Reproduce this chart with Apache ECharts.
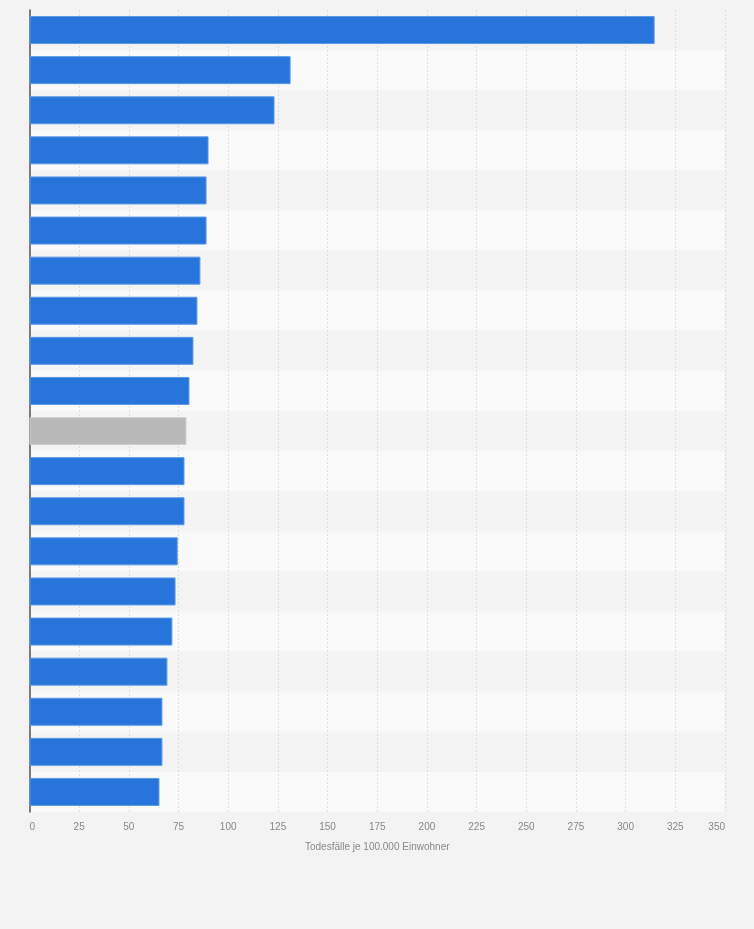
<!DOCTYPE html>
<html>
<head>
<meta charset="utf-8">
<script src="https://cdn.jsdelivr.net/npm/echarts@6/dist/echarts.min.js"></script>
<style>
  html, body { margin: 0; padding: 0; background: #f3f3f3; }
  #main { width: 754px; height: 929px; }
</style>
</head>
<body>
<div id="main"></div>
<script>
// categories (labels are not shown in the picture)
var categories = ['1', '2', '3', '4', '5', '6', '7', '8', '9', '10',
  '11', '12', '13', '14', '15', '16', '17', '18', '19', '20']
// Todesfälle je 100.000 Einwohner
var values = [314.6, 131.4, 123.3, 90.1, 89.1, 89.1, 86.0, 84.5, 82.5, 80.5,
  79.0, 78.0, 78.0, 74.6, 73.5, 71.9, 69.4, 66.9, 66.9, 65.4]
var highlightIndex = 10
var xTicks = { min: 0, max: 350, interval: 25 }
var axisName = 'Todesfälle je 100.000 Einwohner'

var barData = values.map(function (v, i) {
  if (i === highlightIndex) {
    return { value: v, itemStyle: { color: '#b9b9b9', borderColor: '#cfcfcf' } }
  }
  return v
})

var myChart = echarts.init(document.getElementById('main'))

myChart.setOption({
  backgroundColor: '#f3f3f3',
  textStyle: { fontFamily: 'Liberation Sans, Arial, sans-serif' },
  grid: { left: 29.5, right: 29, top: 10, bottom: 117, containLabel: false },
  xAxis: {
    type: 'value',
    min: xTicks.min,
    max: xTicks.max,
    interval: xTicks.interval,
    name: axisName,
    nameLocation: 'middle',
    nameGap: 30,
    nameTextStyle: { color: '#888', fontSize: 10 },
    axisLine: { show: false },
    axisTick: { show: false },
    axisLabel: {
      color: '#888',
      fontSize: 10,
      margin: 10,
      alignMinLabel: 'left',
      alignMaxLabel: 'right'
    },
    splitLine: { show: true, lineStyle: { color: '#dedede', type: [2, 2], width: 1 } }
  },
  yAxis: {
    type: 'category',
    data: categories,
    inverse: true,
    axisLine: { show: true, lineStyle: { color: '#555', width: 1.5 } },
    axisTick: { show: false },
    axisLabel: { show: false },
    splitArea: { show: true, areaStyle: { color: ['#f4f4f4', '#f9f9f9'] } }
  },
  series: [{
    type: 'bar',
    data: barData,
    barWidth: 28,
    itemStyle: { color: '#2775db', borderColor: '#5a98e6', borderWidth: 1 },
    silent: true
  }]
})

window.onresize = function () {
  myChart.resize()
}
</script>
</body>
</html>
